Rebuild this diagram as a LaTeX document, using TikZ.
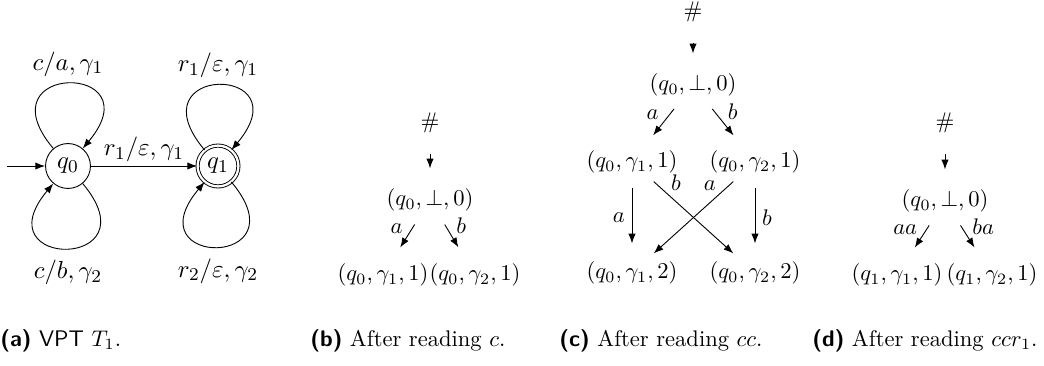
\documentclass[tikz,border=0pt]{standalone}
\usepackage{amsmath,amssymb}
\usetikzlibrary{arrows.meta}
\tikzset{every picture/.style={line width=0.4pt}}

\begin{document}
\begin{tikzpicture}[
    x=0.443pt, y=0.443pt,
    >={Latex[length=4.3pt,width=3.2pt]},
    vstate/.style={
        circle, draw, minimum size=19.9pt, inner sep=0pt,
        font=\fontsize{11}{13}\selectfont
    },
    vfinal/.style={
        vstate, double, double distance=1pt, minimum size=18.1pt
    },
    tlabel/.style={font=\fontsize{11}{13}\selectfont, inner sep=1.5pt},
    selfloop/.style={->, looseness=1, min distance=50pt},
    conf/.style={font=\fontsize{9.8}{12}\selectfont, inner sep=2pt},
    elabel/.style={font=\fontsize{9.8}{12}\selectfont, inner sep=1.5pt},
    hedge/.style={->, shorten <=7.3pt, shorten >=6.8pt},
    tedge/.style={->, shorten <=4.3pt, shorten >=5.9pt},
    xedge/.style={->, shorten <=2.2pt, shorten >=2.2pt},
    subcap/.style={anchor=base west, inner sep=0pt, font=\normalsize},
]

% fixed frame
\useasboundingbox (0,0) rectangle (1044,-365);

%% ===================== (a) the VPT =====================
\node[vstate] (q0) at (68,-166) {$q_0$};
\node[vfinal] (q1) at (218,-166) {$q_1$};
\coordinate (init) at (7,-166);

\draw[->] (init) -- (q0);
\draw[->] (q0) -- node[above, tlabel] {$r_1/\varepsilon,\gamma_1$} (q1);

% self loops
\draw[selfloop] (q0) to[out=130, in=50]
  node[above, tlabel, yshift=1.5pt] {$c/a,\gamma_1$} (q0);
\draw[selfloop] (q0) to[out=-50, in=-130]
  node[below, tlabel, yshift=-3.5pt] {$c/b,\gamma_2$} (q0);
\draw[selfloop] (q1) to[out=130, in=50]
  node[above, tlabel, yshift=1.5pt] {$r_1/\varepsilon,\gamma_1$} (q1);
\draw[selfloop] (q1) to[out=-50, in=-130]
  node[below, tlabel, yshift=-3.5pt] {$r_2/\varepsilon,\gamma_2$} (q1);

%% ===================== (b) after c =====================
\node[conf] (hashb) at (430,-123) {$\#$};
\node[conf] (rootb) at (430,-200) {$(q_0,\bot,0)$};
\node[conf] (b1) at (383,-275) {$(q_0,\gamma_1,1)$};
\node[conf] (b2) at (475,-275) {$(q_0,\gamma_2,1)$};

\draw[hedge] (hashb) -- (rootb);
\draw[tedge] (rootb) -- node[midway, above left, elabel] {$a$} (b1);
\draw[tedge] (rootb) -- node[midway, above right, elabel] {$b$} (b2);

%% ===================== (c) after cc =====================
\node[conf] (hashc) at (693,-12) {$\#$};
\node[conf] (rootc) at (693,-85) {$(q_0,\bot,0)$};
\node[conf] (c1) at (632,-162) {$(q_0,\gamma_1,1)$};
\node[conf] (c2) at (755,-162) {$(q_0,\gamma_2,1)$};
\node[conf] (c3) at (632,-273) {$(q_0,\gamma_1,2)$};
\node[conf] (c4) at (755,-273) {$(q_0,\gamma_2,2)$};

\draw[hedge] (hashc) -- (rootc);
\draw[tedge] (rootc) -- node[midway, above left, elabel] {$a$} (c1);
\draw[tedge] (rootc) -- node[midway, above right, elabel] {$b$} (c2);
\draw[tedge] (c1) -- node[midway, left, elabel, xshift=-1.5pt] {$a$} (c3);
\draw[tedge] (c2) -- node[midway, right, elabel, xshift=1.5pt] {$b$} (c4);
% crossing edges
\draw[xedge] (c1) -- node[pos=0.2, above right, elabel] {$b$} (c4);
\draw[xedge] (c2) -- node[pos=0.2, above left, elabel] {$a$} (c3);

%% ===================== (d) after ccr1 =====================
\node[conf] (hashd) at (945,-123) {$\#$};
\node[conf] (rootd) at (945,-201) {$(q_0,\bot,0)$};
\node[conf] (d1) at (897,-275) {$(q_1,\gamma_1,1)$};
\node[conf] (d2) at (992,-275) {$(q_1,\gamma_2,1)$};

\draw[hedge] (hashd) -- (rootd);
\draw[tedge] (rootd) -- node[midway, above left, elabel] {$aa$} (d1);
\draw[tedge] (rootd) -- node[midway, above right, elabel] {$ba$} (d2);

%% ===================== captions =====================
\node[subcap] (capa) at (0,-346) {\textsf{\textbf{(a)}} \textsf{VPT} $T_1$.};
\node[subcap] (capb) at (310,-346) {\textsf{\textbf{(b)}} After reading $c$.};
\node[subcap] (capc) at (559,-346) {\textsf{\textbf{(c)}} After reading $cc$.};
\node[subcap] (capd) at (812,-346) {\textsf{\textbf{(d)}} After reading $ccr_1$.};

\end{tikzpicture}
\end{document}
